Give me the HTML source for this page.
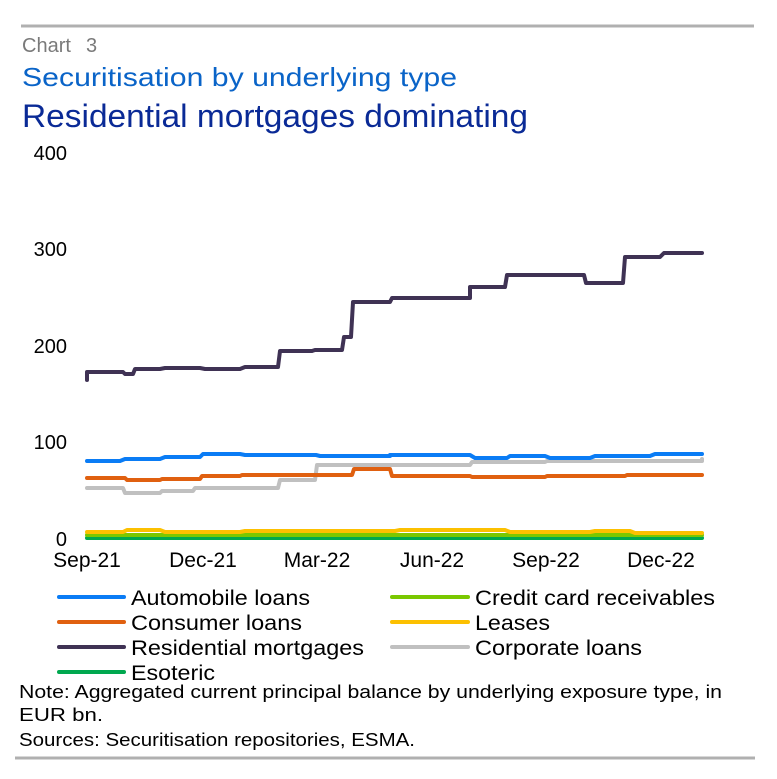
<!DOCTYPE html>
<html><head><meta charset="utf-8"><style>
html,body{margin:0;padding:0;background:#fff;}
svg{display:block;font-family:"Liberation Sans",sans-serif;}
</style></head><body>
<svg width="777" height="779" viewBox="0 0 777 779" xmlns="http://www.w3.org/2000/svg">
<line x1="21" y1="26" x2="754" y2="26" stroke="#b0b0b0" stroke-width="3"/>
<text x="22" y="52" font-size="20" fill="#7a7a7a">Chart</text>
<text x="86" y="52" font-size="20" fill="#7a7a7a">3</text>
<text x="22" y="86" font-size="26" fill="#0a64c8" textLength="435" lengthAdjust="spacingAndGlyphs">Securitisation by underlying type</text>
<text x="22" y="127" font-size="32" fill="#0a2a96" textLength="506" lengthAdjust="spacingAndGlyphs">Residential mortgages dominating</text>
<g font-size="20" fill="#000" text-anchor="end">
<text x="67" y="160">400</text><text x="67" y="256">300</text><text x="67" y="353">200</text><text x="67" y="449">100</text><text x="67" y="546">0</text>
</g>
<g font-size="21" fill="#000" text-anchor="middle">
<text x="87" y="567">Sep-21</text><text x="203" y="567">Dec-21</text><text x="317" y="567">Mar-22</text><text x="432" y="567">Jun-22</text><text x="546" y="567">Sep-22</text><text x="661" y="567">Dec-22</text>
</g>
<g fill="none" stroke-width="4" stroke-linejoin="round" stroke-linecap="round">
<path stroke="#00a84f" d="M87 538H702"/>
<path stroke="#7ac800" d="M87 535H702"/>
<path stroke="#fcc000" d="M87 532H123L127 530H160L165 532H240L245 531H395L400 530H505L510 532H590L595 531H630L635 533H702"/>
<path stroke="#c0c0c0" d="M87 488H123L125 493H160L162 491H193L195 488H278L280 480H315L317 465H470L472 462H545L547 461H702V459"/>
<path stroke="#e06010" d="M87 478H125L127 480H160L162 479H200L202 476H240L242 475H352L354 469H390L392 476H470L472 477H545L547 476H625L627 475H702"/>
<path stroke="#0a7cf5" d="M87 461H120L125 459H160L165 457H200L203 454H240L245 455H316L320 456H390V455H470L475 458H507L510 456H545L550 458H590L595 456H650L655 454H702"/>
<path stroke="#3f3254" d="M87 380V372H123L125 374H133L135 369H160L165 368H200L205 369H240L245 367H278L280 351H312L315 350H342L344 337H351L353 302H390L392 298H470V287H505L507 275H584L586 283H623L625 257H660L664 253H702"/>
</g>
<g stroke-width="4" stroke-linecap="round">
<line x1="59" y1="597" x2="124" y2="597" stroke="#0a7cf5"/>
<line x1="59" y1="622" x2="124" y2="622" stroke="#e06010"/>
<line x1="59" y1="647" x2="124" y2="647" stroke="#3f3254"/>
<line x1="59" y1="672" x2="124" y2="672" stroke="#00a84f"/>
<line x1="392" y1="597" x2="468" y2="597" stroke="#7ac800"/>
<line x1="392" y1="622" x2="468" y2="622" stroke="#fcc000"/>
<line x1="392" y1="647" x2="468" y2="647" stroke="#c0c0c0"/>
</g>
<g font-size="21" fill="#000">
<text x="131" y="605" textLength="179" lengthAdjust="spacingAndGlyphs">Automobile loans</text>
<text x="131" y="630" textLength="171" lengthAdjust="spacingAndGlyphs">Consumer loans</text>
<text x="131" y="655" textLength="233" lengthAdjust="spacingAndGlyphs">Residential mortgages</text>
<text x="131" y="680" textLength="84" lengthAdjust="spacingAndGlyphs">Esoteric</text>
<text x="475" y="605" textLength="240" lengthAdjust="spacingAndGlyphs">Credit card receivables</text>
<text x="475" y="630" textLength="75" lengthAdjust="spacingAndGlyphs">Leases</text>
<text x="475" y="655" textLength="167" lengthAdjust="spacingAndGlyphs">Corporate loans</text>
</g>
<g font-size="18" fill="#000">
<text x="19" y="698" textLength="703" lengthAdjust="spacingAndGlyphs">Note: Aggregated current principal balance by underlying exposure type, in</text>
<text x="19" y="721" textLength="84" lengthAdjust="spacingAndGlyphs">EUR bn.</text>
<text x="19" y="746" textLength="396" lengthAdjust="spacingAndGlyphs">Sources: Securitisation repositories, ESMA.</text>
</g>
<line x1="15" y1="758" x2="755" y2="758" stroke="#b0b0b0" stroke-width="3"/>
</svg>
</body></html>
